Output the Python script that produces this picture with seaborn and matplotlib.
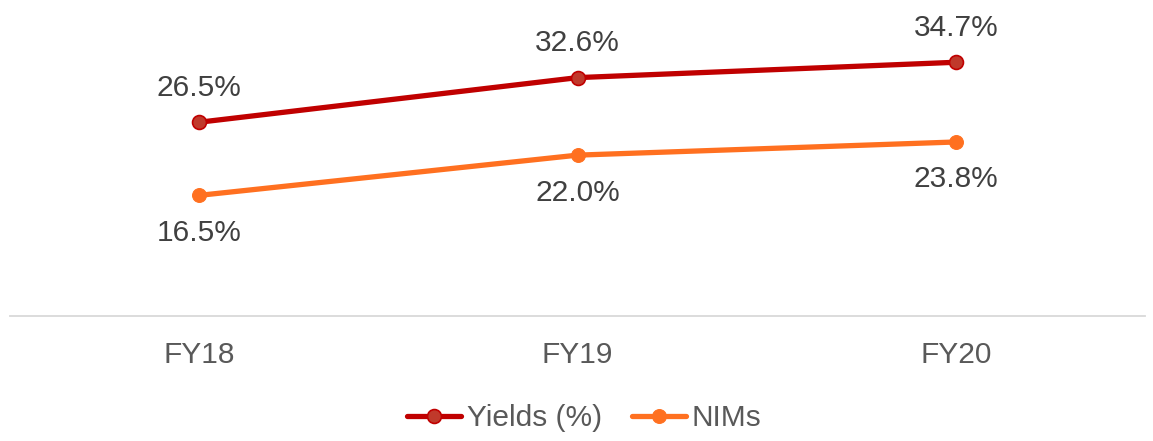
import matplotlib
matplotlib.use("Agg")
import matplotlib.pyplot as plt
import seaborn as sns
import pandas as pd

categories = ["FY18", "FY19", "FY20"]
yields = [26.5, 32.6, 34.7]
nims = [16.5, 22.0, 23.8]

sns.set_theme(style="white")
plt.rcParams["font.family"] = ["Liberation Sans", "DejaVu Sans"]

df = pd.DataFrame({"year": categories, "Yields (%)": yields, "NIMs": nims})

fig = plt.figure(figsize=(11.53, 4.41), dpi=100)
ax = fig.add_axes([0.0087, 0.2834, 0.9844, 0.6633])

red_line = "#C00000"
red_face = "#C0392B"
orange = "#FF7020"

sns.lineplot(data=df, x="year", y="Yields (%)", ax=ax, color=red_line, lw=3.8,
             marker="o", markersize=10, markerfacecolor=red_face,
             markeredgecolor=red_line, markeredgewidth=1.2, label="Yields (%)")
sns.lineplot(data=df, x="year", y="NIMs", ax=ax, color=orange, lw=3.8,
             marker="o", markersize=10, markerfacecolor=orange,
             markeredgecolor=orange, label="NIMs")

text_color = "#404040"
fs = 21.5
for i, v in enumerate(yields):
    ax.annotate(f"{v:.1f}%", (i, v), xytext=(0, 25), textcoords="offset points",
                ha="center", va="center", fontsize=fs, color=text_color)
for i, v in enumerate(nims):
    ax.annotate(f"{v:.1f}%", (i, v), xytext=(0, -27), textcoords="offset points",
                ha="center", va="center", fontsize=fs, color=text_color)

ax.set_xlim(-0.5, 2.5)
ax.set_ylim(0, 40)
ax.set_xlabel("")
ax.set_ylabel("")
ax.set_yticks([])
ax.tick_params(axis="x", length=0, pad=18, labelsize=fs, labelcolor="#595959")
for side in ["left", "right", "top"]:
    ax.spines[side].set_visible(False)
ax.spines["bottom"].set_color("#D9D9D9")
ax.spines["bottom"].set_linewidth(1.3)

ax.get_legend().remove()
handles, labels = ax.get_legend_handles_labels()
leg = fig.legend(handles, labels, loc="center", bbox_to_anchor=(0.507, 0.052),
                 ncol=2, frameon=False, fontsize=fs, handlelength=1.8,
                 handletextpad=0.2, columnspacing=1.0)
for t in leg.get_texts():
    t.set_color("#595959")

fig.savefig("out.png", dpi=100)
